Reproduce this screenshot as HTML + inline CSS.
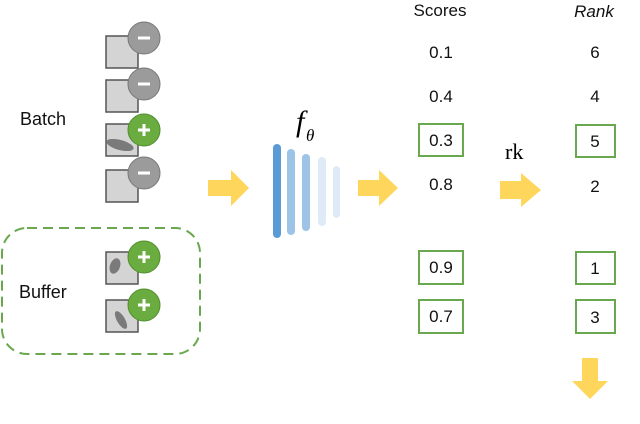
<!DOCTYPE html>
<html><head><style>body{margin:0;background:#fff}</style></head><body>
<svg width="640" height="419" xmlns="http://www.w3.org/2000/svg" font-family="Liberation Sans, sans-serif">
<rect width="640" height="419" fill="#fff"/>
<text x="20" y="125" font-size="18" fill="#111">Batch</text>
<text x="19" y="298" font-size="18" fill="#111">Buffer</text>
<rect x="2" y="228" width="198" height="126" rx="25" fill="none" stroke="#6aa84f" stroke-width="2" stroke-dasharray="10,6"/>
<g stroke="#555" stroke-width="1.5" fill="#d4d4d4">
<rect x="106" y="36" width="32" height="32"/>
<rect x="106" y="80" width="32" height="32"/>
<rect x="106" y="124" width="32" height="32"/>
<rect x="106" y="170" width="32" height="32"/>
<rect x="106" y="252" width="32" height="32"/>
<rect x="106" y="300" width="32" height="32"/>
</g>
<ellipse cx="120" cy="145" rx="14" ry="5" transform="rotate(15 120 145)" fill="#7a7a7a"/>
<ellipse cx="115" cy="266" rx="5" ry="8" transform="rotate(20 115 266)" fill="#7a7a7a"/>
<ellipse cx="121" cy="320" rx="4" ry="10" transform="rotate(-30 121 320)" fill="#7a7a7a"/>
<g stroke="#777" stroke-width="1">
<circle cx="144" cy="38" r="16" fill="#9b9b9b"/>
<circle cx="144" cy="84" r="16" fill="#9b9b9b"/>
<circle cx="144" cy="173" r="16" fill="#9b9b9b"/>
</g>
<g stroke="#4f8f2f" stroke-width="1">
<circle cx="144" cy="130" r="16" fill="#6aac3f"/>
<circle cx="144" cy="257" r="16" fill="#6aac3f"/>
<circle cx="144" cy="305" r="16" fill="#6aac3f"/>
</g>
<g stroke="#fff" stroke-width="3">
<line x1="138" y1="38" x2="150" y2="38"/><line x1="138" y1="84" x2="150" y2="84"/><line x1="138" y1="173" x2="150" y2="173"/>
<line x1="138" y1="130" x2="150" y2="130"/><line x1="144" y1="124" x2="144" y2="136"/>
<line x1="138" y1="257" x2="150" y2="257"/><line x1="144" y1="251" x2="144" y2="263"/>
<line x1="138" y1="305" x2="150" y2="305"/><line x1="144" y1="299" x2="144" y2="311"/>
</g>
<g fill="#ffd65c">
<polygon points="208,180 231,180 231,170 249,188 231,206 231,196 208,196"/>
<polygon points="358,180 379,180 379,170 398,188 379,206 379,196 358,196"/>
<polygon points="500,181 521,181 521,173 541,190 521,207 521,199 500,199"/>
<polygon points="582,358 598,358 598,381 608,381 590,399 572,381 582,381"/>
</g>
<rect x="273" y="144" width="8" height="94" rx="4" fill="#5b9bd5"/>
<rect x="287" y="149" width="8" height="86" rx="4" fill="#9dc3e6"/>
<rect x="302" y="154" width="8" height="77" rx="4" fill="#9dc3e6"/>
<rect x="318" y="157" width="8" height="69" rx="4" fill="#deebf7"/>
<rect x="333" y="166" width="7" height="52" rx="3.5" fill="#deebf7"/>
<text x="296" y="131" font-size="30" font-style="italic" font-family="Liberation Serif, serif">f</text>
<text x="306" y="141" font-size="17" font-style="italic" font-family="Liberation Serif, serif">θ</text>
<text x="505" y="159" font-size="22" font-family="Liberation Serif, serif">rk</text>
<g font-size="17" fill="#111" text-anchor="middle">
<text x="440" y="16">Scores</text>
<text x="594" y="17" font-style="italic">Rank</text>
<text x="441" y="58">0.1</text><text x="441" y="102">0.4</text><text x="441" y="146">0.3</text>
<text x="441" y="190">0.8</text><text x="441" y="273">0.9</text><text x="441" y="322">0.7</text>
<text x="595" y="58">6</text><text x="595" y="102">4</text><text x="595" y="147">5</text>
<text x="595" y="192">2</text><text x="595" y="274">1</text><text x="595" y="323">3</text>
</g>
<g fill="none" stroke="#6aa84f" stroke-width="2">
<rect x="419" y="124" width="44" height="32"/><rect x="419" y="251" width="44" height="33"/><rect x="419" y="300" width="44" height="33"/>
<rect x="576" y="125" width="39" height="32"/><rect x="576" y="252" width="39" height="32"/><rect x="576" y="300" width="39" height="33"/>
</g>
</svg>
</body></html>
